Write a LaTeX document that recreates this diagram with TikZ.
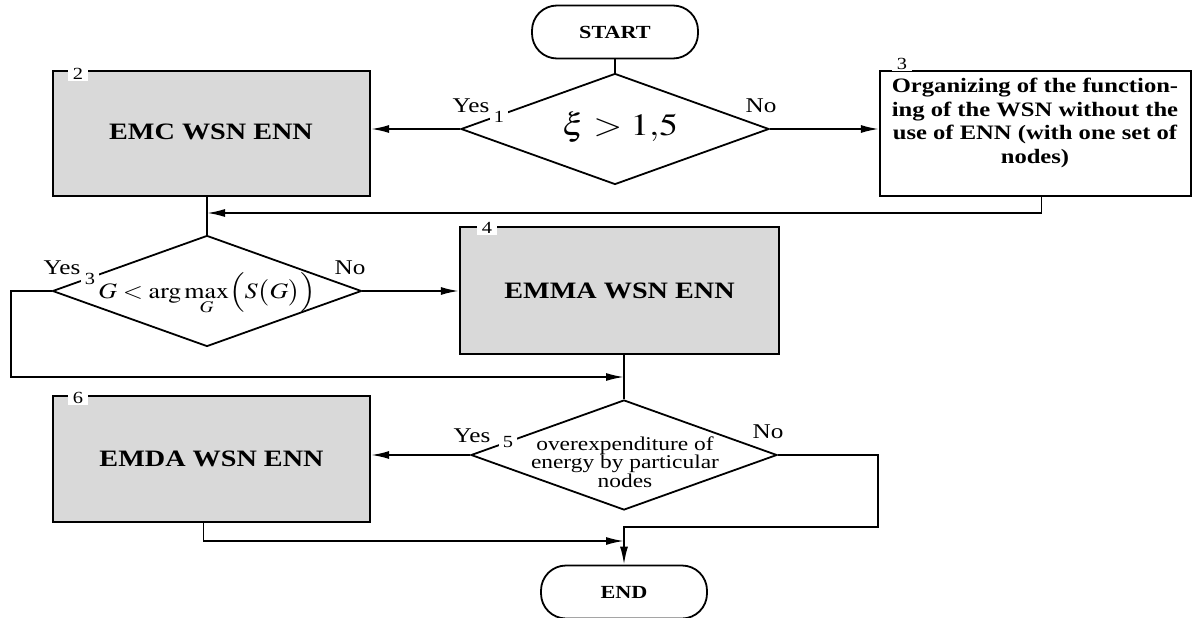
\documentclass[tikz,border=0pt]{standalone}
\usepackage{mathptmx}
\usepackage{fontspec}
\setmainfont{Liberation Serif}[FakeStretch = 1.2]
\usepackage{graphicx}
\usetikzlibrary{arrows.meta, shapes.geometric, positioning}
\tikzset{>={Latex[length = 18pt, width = 8pt]}}
\definecolor{boxgray}{HTML}{D9D9D9}
\tikzset{
  flowline/.style = {line width = 1.8pt},
  terminal/.style = {draw, line width = 1.8pt, rounded corners = 25pt, minimum width = 166pt, minimum height = 53pt, font = \fontsize{18.5}{22}\selectfont\bfseries},
  decision/.style = {draw, diamond, line width = 1.8pt, inner sep = 0pt},
  process/.style = {draw, line width = 2.2pt, minimum width = 317pt, minimum height = 125pt, font = \fontsize{23.5}{27}\selectfont\bfseries},
  boxnum/.style = {fill = white, inner xsep = 5pt, inner ysep = 1pt, font = \fontsize{17}{20}\selectfont},
  decnum/.style = {fill = white, inner sep = 4pt, font = \fontsize{17}{20}\selectfont},
  answer/.style = {fill = white, inner sep = 3pt, font = \fontsize{21}{25}\selectfont}
}
\begin{document}
\begin{tikzpicture}[x = 1pt, y = -1pt]
\useasboundingbox (0,0) rectangle (1194,618);
\node[terminal] (start) at (615,32) {START};
\node[decision, minimum width = 308pt, minimum height = 111pt] (d1) at (615,129) {};
\node (t1) at (620,127) {\fontsize{31}{35}\selectfont\scalebox{1.2}[1]{$\xi > 1{,}5$}};
\node[process, fill = boxgray] (b2) at (211.5,133.5) {};
\node[font = \fontsize{23.5}{27}\selectfont\bfseries] (t2) at (211,132) {EMC WSN ENN};
\node[process, minimum width = 311pt] (b3) at (1035.5,133.5) {};
\node[align = center, font = \fontsize{20.5}{23.5}\selectfont\bfseries] (t3) at (1035,123) {Organizing of the function-\\ing of the WSN without the\\use of ENN (with one set of\\nodes)};
\node[decision, minimum width = 309pt, minimum height = 111pt] (d3) at (207,291) {};
\node[anchor = base, font = \fontsize{22}{26}\selectfont] (t4) at (207,298) {\scalebox{1.18}[1]{$G < \arg\max\limits_{G}\Bigl(S\bigl(G\bigr)\Bigr)$}};
\node[process, fill = boxgray, minimum width = 319pt, minimum height = 127pt] (b4) at (619.5,290.5) {EMMA WSN ENN};
\node[decision, minimum width = 306pt, minimum height = 110pt] (d5) at (624,455) {};
\node[align = center, font = \fontsize{19.5}{18.5}\selectfont] (t5) at (625,462) {overexpenditure of\\energy by particular\\nodes};
\node[process, fill = boxgray, minimum height = 126pt] (b6) at (211.5,459) {EMDA WSN ENN};
\node[terminal] (end) at (624,592) {END};
\draw[flowline] (start.south) -- (d1.north);
\draw[flowline, ->] (d1.west) -- (d1.west -| b2.east);
\draw[flowline, ->] (d1.east) -- (d1.east -| b3.west);
\coordinate (j1) at (207,213);
\draw[flowline, ->] ([xshift = 6pt]b3.south) |- (j1);
\draw[flowline] (b2.south -| d3.north) -- (d3.north);
\draw[flowline, ->] (d3.east) -- (d3.east -| b4.west);
\coordinate (j2) at (624,377);
\draw[flowline, ->] (d3.west) -- ++(-41,0) |- (j2);
\draw[flowline] (b4.south -| d5.north) -- (d5.north);
\draw[flowline, ->] (d5.west) -- (d5.west -| b6.east);
\coordinate (r1) at (878,527);
\draw[flowline, ->] (d5.east) -| (r1) -- (r1 -| end.north) -- (end.north);
\coordinate (j3) at (624,541);
\draw[flowline, ->] ([xshift = -8pt]b6.south) |- (j3);
\node[answer] (y1) at (471,106) {Yes};
\node[decnum] (n1) at (499,117) {1};
\node[answer] (no1) at (761,106) {No};
\node[answer] (y3) at (62,268) {Yes};
\node[decnum] (n3) at (90,279) {3};
\node[answer] (no3) at (350,268) {No};
\node[answer] (y5) at (472,436) {Yes};
\node[decnum] (n5) at (508,442) {5};
\node[answer] (no5) at (768,432) {No};
\node[boxnum] (k2) at (78,74) {2};
\node[boxnum] (k3) at (902,64) {3};
\node[boxnum] (k4) at (487,228) {4};
\node[boxnum] (k6) at (78,398) {6};
\end{tikzpicture}
\end{document}
